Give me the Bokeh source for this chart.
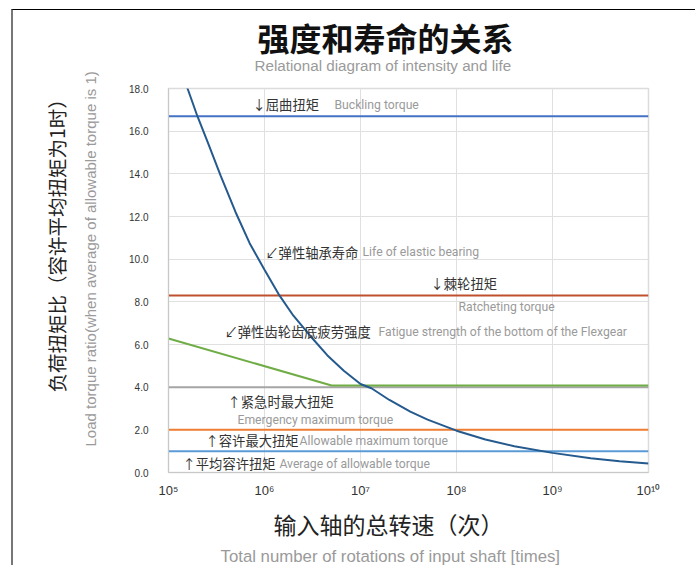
from bokeh.plotting import figure
from bokeh.models import Label, FixedTicker, NumeralTickFormatter, Title
from bokeh.embed import file_html
from bokeh.resources import INLINE

# ---------------- data ----------------
decades = [1e5, 1e6, 1e7, 1e8, 1e9, 1e10]
decade_labels = ["10⁵", "10⁶", "10⁷", "10⁸", "10⁹", "10¹⁰"]
y_ticks = [0, 2, 4, 6, 8, 10, 12, 14, 16, 18]

# elastic bearing life curve
life_n = [1.45e5, 1.58e5, 2.0e5, 2.5e5, 3.5e5, 5.0e5, 7.0e5, 1.0e6, 1.43e6,
          2.0e6, 3.0e6, 4.5e6, 6.7e6, 1.0e7, 1.3e7, 2.0e7, 3.3e7, 5.0e7,
          1.0e8, 2.0e8, 4.0e8, 1.0e9, 2.5e9, 5.0e9, 1.0e10]
life_t = [18.6, 18.0, 16.7, 15.6, 13.9, 12.2, 10.75, 9.5, 8.3,
          7.35, 6.4, 5.5, 4.77, 4.15, 3.95, 3.4, 2.85, 2.48,
          1.96, 1.55, 1.23, 0.92, 0.67, 0.53, 0.42]

# flexgear root fatigue strength
fat_n = [1e5, 5.0e6, 1e10]
fat_t = [6.28, 4.08, 4.08]

x_span = [1e5, 1e10]
buckling = 16.7
ratcheting = 8.3
emergency_max = 4.0
allowable_max = 2.0
allowable_avg = 1.0

CJK = "Noto Sans CJK SC"
LAT = "Roboto"
LAT2 = "Liberation Sans"
DARK = "#333333"
GREY = "#9a9a9a"

p = figure(width=684, height=556, x_axis_type="log", x_range=(1e5, 1e10),
           y_range=(0, 18), output_backend="svg", toolbar_location=None,
           min_border_left=155, min_border_right=49, min_border_top=78,
           min_border_bottom=93, title=None)
p.margin = (9, 0, 0, 11)
p.styles = {"border-top": "1.5px solid #000000", "border-left": "2px solid #777777"}
p.background_fill_color = "white"
p.border_fill_color = "white"
p.outline_line_color = "#dcdcdc"
p.outline_line_width = 1.5

p.xgrid.grid_line_color = "#e0e0e0"
p.ygrid.grid_line_color = "#e0e0e0"

p.xaxis.ticker = FixedTicker(ticks=decades)
p.xaxis.major_label_overrides = {int(d): lab for d, lab in zip(decades, decade_labels)}
p.yaxis.ticker = FixedTicker(ticks=y_ticks)
p.yaxis.formatter = NumeralTickFormatter(format="0.0")
for ax in (p.xaxis, p.yaxis):
    ax.major_tick_line_color = None
    ax.minor_tick_line_color = None
    ax.axis_line_color = "#c8c8c8"
    ax.major_label_text_color = "#333333"
    ax.major_label_text_font = "Liberation Sans"
p.yaxis.major_label_text_font_size = "10px"
p.yaxis.major_label_standoff = 14
p.xaxis.major_label_text_font_size = "13px"
p.xaxis.major_label_standoff = 4

# horizontal limits
p.line(x_span, [buckling] * 2, line_color="#4472c4", line_width=2)
p.line(x_span, [ratcheting] * 2, line_color="#c0502d", line_width=2)
p.line(x_span, [emergency_max] * 2, line_color="#a5a5a5", line_width=2)
p.line(x_span, [allowable_max] * 2, line_color="#ed7d31", line_width=2)
p.line(x_span, [allowable_avg] * 2, line_color="#5b9bd5", line_width=2)
p.line(fat_n, fat_t, line_color="#70ad47", line_width=2)
p.line(life_n, life_t, line_color="#255a8e", line_width=2)

# in-plot annotations (data coordinates)
notes = [
    (7.5e5, 17.25, "↓屈曲扭矩", CJK, DARK),
    (5.36e6, 17.25, "Buckling torque", LAT, GREY),
    (1.02e6, 10.33, "↙弹性轴承寿命", CJK, DARK),
    (1.05e7, 10.33, "Life of elastic bearing", LAT, GREY),
    (5.36e7, 8.84, "↓棘轮扭矩", CJK, DARK),
    (1.05e8, 7.76, "Ratcheting torque", LAT, GREY),
    (3.83e5, 6.59, "↙弹性齿轮齿底疲劳强度", CJK, DARK),
    (1.54e7, 6.59, "Fatigue strength of the bottom of the Flexgear", LAT, GREY),
    (4.12e5, 3.32, "↑紧急时最大扭矩", CJK, DARK),
    (5.23e5, 2.48, "Emergency maximum torque", LAT, GREY),
    (2.43e5, 1.50, "↑容许最大扭矩", CJK, DARK),
    (2.32e6, 1.50, "Allowable maximum torque", LAT, GREY),
    (1.40e5, 0.42, "↑平均容许扭矩", CJK, DARK),
    (1.43e6, 0.42, "Average of allowable torque", LAT, GREY),
]
for x, y, t, f, c in notes:
    p.add_layout(Label(x=x, y=y, text=t, text_font=f, text_color=c,
                       text_font_size="13.3px" if f == CJK else "12.2px",
                       text_baseline="middle", text_align="left"))

# titles (stacked outward from the frame in order of addition)
p.add_layout(Title(text="Relational diagram of intensity and life", align="left",
                   offset=86, standoff=28.8, text_font=LAT2, text_font_size="15.2px",
                   text_color=GREY, text_font_style="normal"), "above")
p.add_layout(Title(text="强度和寿命的关系", align="left", offset=89, standoff=-38.6,
                   text_font=CJK, text_font_size="32px", text_color="#111111",
                   text_font_style="bold"), "above")

p.add_layout(Title(text="Load torque ratio(when average of allowable torque is 1)",
                   align="left", offset=26, standoff=54.8, text_font=LAT2,
                   text_font_size="15px", text_color=GREY,
                   text_font_style="normal"), "left")
p.add_layout(Title(text="负荷扭矩比（容许平均扭矩为1时）", align="left", offset=80,
                   standoff=-36.5, text_font=CJK, text_font_size="19.5px",
                   text_color="#222222", text_font_style="normal"), "left")

p.add_layout(Title(text="输入轴的总转速（次）", align="left", offset=105, standoff=8.5,
                   text_font=CJK, text_font_size="23px", text_color="#222222",
                   text_font_style="normal"), "below")
p.add_layout(Title(text="Total number of rotations of input shaft [times]",
                   align="left", offset=52, standoff=0.25, text_font=LAT2,
                   text_font_size="16.8px", text_color=GREY,
                   text_font_style="normal"), "below")

open("out.html", "w").write(file_html(p, INLINE))
